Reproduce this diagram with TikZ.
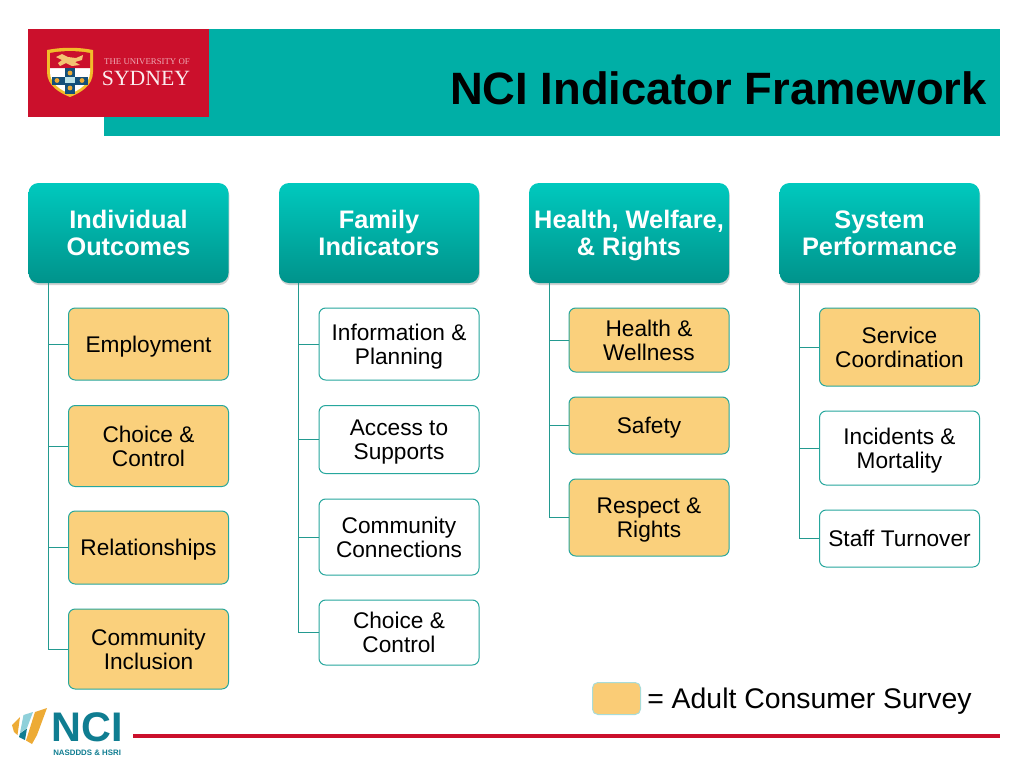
\documentclass[tikz,border=0pt]{standalone}
\usepackage{fontspec}
\setmainfont{Liberation Sans}
\newfontfamily\serifl{Liberation Serif}
\usetikzlibrary{shadows}
\definecolor{band}{HTML}{00AFA6}
\definecolor{uniRed}{HTML}{CB102C}
\definecolor{headTop}{HTML}{00C9BE}
\definecolor{headBot}{HTML}{00938B}
\definecolor{boxLine}{HTML}{26A79D}
\definecolor{boxGold}{HTML}{FAD07C}
\definecolor{nciTeal}{HTML}{0F7D91}
\definecolor{nciGold}{HTML}{EDAB35}
\definecolor{nciSky}{HTML}{8FD0DA}
\definecolor{crestBlue}{HTML}{14507A}
\newcommand\boxtop{\rule{0pt}{16pt}}
\newcommand\boxbot{\rule[-3.5pt]{0pt}{3.5pt}}
\newcommand\headtop{\rule{0pt}{17.2pt}}
\newcommand\headbot{\rule[-3.1pt]{0pt}{3.1pt}}
\newcommand\onetop{\rule[-3.5pt]{0pt}{19.5pt}}
\tikzset{
  x=0.75pt,y=-0.75pt,
  head/.style 2 args={draw=none,rounded corners=7.5pt,top color=headTop,bottom color=headBot,
     minimum width=#1*0.75pt,minimum height=#2*0.75pt,inner sep=0pt,align=center,text=white,
     font=\fontsize{19}{20.25}\selectfont\bfseries,
     drop shadow={shadow xshift=0.6pt,shadow yshift=-1.6pt,opacity=.25,fill=black!70}},
  gold/.style 2 args={draw=boxLine,line width=0.75pt,fill=boxGold,rounded corners=5pt,
     minimum width=#1*0.75pt,minimum height=#2*0.75pt,inner sep=0pt,align=center,text=black,
     font=\fontsize{17}{18}\selectfont},
  plain/.style 2 args={gold={#1}{#2},fill=white},
  conn/.style={draw=boxLine!92!black,line width=0.75pt},
}
\begin{document}
\begin{tikzpicture}
\useasboundingbox (0,0) rectangle (1024,768);
\fill[white] (0,0) rectangle (1024,768);
% title band and logo
\fill[band] (104,29) rectangle (1000,136);
\fill[uniRed] (28,29) rectangle (209,117);
\node[anchor=east,inner sep=0pt,font=\fontsize{34}{36}\selectfont\bfseries,text=black] (title) at (987,88) {NCI Indicator Framework};
% crest
\fill[nciGold!80!yellow] (47,50) .. controls (62,47) and (78,47) .. (93,50) -- (93,72) .. controls (93,86) and (80,93) .. (70,97) .. controls (60,93) and (47,86) .. (47,72) -- cycle;
\fill[white] (50,68) -- (90,68) -- (90,72) .. controls (90,84) and (79,90) .. (70,94) .. controls (61,90) and (50,84) .. (50,72) -- cycle;
\fill[uniRed] (50,53) .. controls (62,50.5) and (78,50.5) .. (90,53) -- (90,68) -- (50,68) -- cycle;
\fill[nciGold!70!white] (56,57) -- (62,54) -- (68,57) -- (76,58) -- (83,55) -- (82,60) -- (75,62) -- (80,65) -- (72,66) -- (66,63) -- (60,66) -- (58,63) -- (62,60) -- cycle;
\fill[crestBlue] (52,77) rectangle (88,85);
\fill[crestBlue] (65,68) rectangle (75,94);
\fill[nciSky!60!white] (64.5,77) rectangle (75,83);
\fill[nciGold] (57,80.5) circle (2.4);
\fill[nciGold] (82,80.5) circle (2.4);
\fill[nciGold] (70,73) circle (2.4);
\fill[nciGold] (70,88) circle (2.4);
\node[inner sep=0pt,text=white!65!uniRed,font=\serifl\fontsize{6.6}{7}\selectfont] (uni1) at (147,62) {THE UNIVERSITY OF};
\node[inner sep=0pt,text=white!92!uniRed,font=\serifl\fontsize{16.3}{17}\selectfont] (uni2) at (146,78) {SYDNEY};
% headers
\node[head={200}{100}] (h1) at (128.5,233) {\headtop Individual\\Outcomes\headbot};
\node[head={200}{100}] (h2) at (379,233) {\headtop Family\\Indicators\headbot};
\node[head={200}{100}] (h3) at (629,233) {\headtop Health, Welfare,\\\& Rights\headbot};
\node[head={200}{100}] (h4) at (879.5,233) {\headtop System\\Performance\headbot};
% column 1
\node[gold={160}{72}] (a1) at (148.5,344) {\onetop Employment};
\node[gold={160}{81}] (a2) at (148.5,446) {\boxtop Choice \&\\Control\boxbot};
\node[gold={160}{73}] (a3) at (148.5,547.5) {\onetop Relationships};
\node[gold={160}{80}] (a4) at (148.5,649) {\boxtop Community\\Inclusion\boxbot};
% column 2
\node[plain={160}{72}] (b1) at (399,344) {\boxtop Information \&\\Planning\boxbot};
\node[plain={160}{68}] (b2) at (399,439.5) {\boxtop Access to\\Supports\boxbot};
\node[plain={160}{76}] (b3) at (399,537) {\boxtop Community\\Connections\boxbot};
\node[plain={160}{65}] (b4) at (399,632.5) {\boxtop Choice \&\\Control\boxbot};
% column 3
\node[gold={160}{64}] (c1) at (649,340) {\boxtop Health \&\\Wellness\boxbot};
\node[gold={160}{57}] (c2) at (649,425.5) {\onetop Safety};
\node[gold={160}{77}] (c3) at (649,517.5) {\boxtop Respect \&\\Rights\boxbot};
% column 4
\node[gold={160}{78}] (d1) at (899.5,347) {\boxtop Service\\Coordination\boxbot};
\node[plain={160}{74}] (d2) at (899.5,448) {\boxtop Incidents \&\\Mortality\boxbot};
\node[plain={160}{57}] (d3) at (899.5,538.5) {\onetop Staff Turnover};
% connector roots
\coordinate (r1) at (48,283);
\coordinate (r2) at (298.5,283);
\coordinate (r3) at (549,283);
\coordinate (r4) at (799.5,283);
\draw[conn] (r1) |- (a1.west);
\draw[conn] (r1) |- (a2.west);
\draw[conn] (r1) |- (a3.west);
\draw[conn] (r1) |- (a4.west);
\draw[conn] (r2) |- (b1.west);
\draw[conn] (r2) |- (b2.west);
\draw[conn] (r2) |- (b3.west);
\draw[conn] (r2) |- (b4.west);
\draw[conn] (r3) |- (c1.west);
\draw[conn] (r3) |- (c2.west);
\draw[conn] (r3) |- (c3.west);
\draw[conn] (r4) |- (d1.west);
\draw[conn] (r4) |- (d2.west);
\draw[conn] (r4) |- (d3.west);
% legend
\node[draw=boxLine!40!white,line width=0.75pt,fill=boxGold!95!orange,rounded corners=4pt,minimum width=36pt,minimum height=24pt,inner sep=0pt] (key) at (616.5,698.5) {};
\node[anchor=west,inner sep=0pt,font=\fontsize{21.3}{24}\selectfont] (keytext) at (647,701) {= Adult Consumer Survey};
% bottom rule
\coordinate (ruleA) at (133,736);
\coordinate (ruleB) at (1000,736);
\draw[uniRed,line width=2.4pt] (ruleA) -- (ruleB);
% NCI logo
\fill[nciGold] (12,725) -- (20,717) -- (17.5,735) -- (14,732) -- cycle;
\fill[nciSky] (23.5,715) -- (33,712) -- (27,728) -- (20,733) -- cycle;
\fill[nciTeal] (20,733.5) -- (27,728.5) -- (25,740) -- (19,737) -- cycle;
\fill[nciGold] (35,712) -- (47,708) -- (37,735) -- (32,744) -- (26,740.5) -- cycle;
\node[anchor=west,inner sep=0pt,text=nciTeal,font=\fontsize{31}{32}\selectfont\bfseries] (nci) at (51.5,727) {NCI};
\node[anchor=west,inner sep=0pt,text=nciTeal,font=\fontsize{5.9}{7}\selectfont\bfseries] (nci2) at (53,753) {NASDDDS \& HSRI};
\end{tikzpicture}
\end{document}
